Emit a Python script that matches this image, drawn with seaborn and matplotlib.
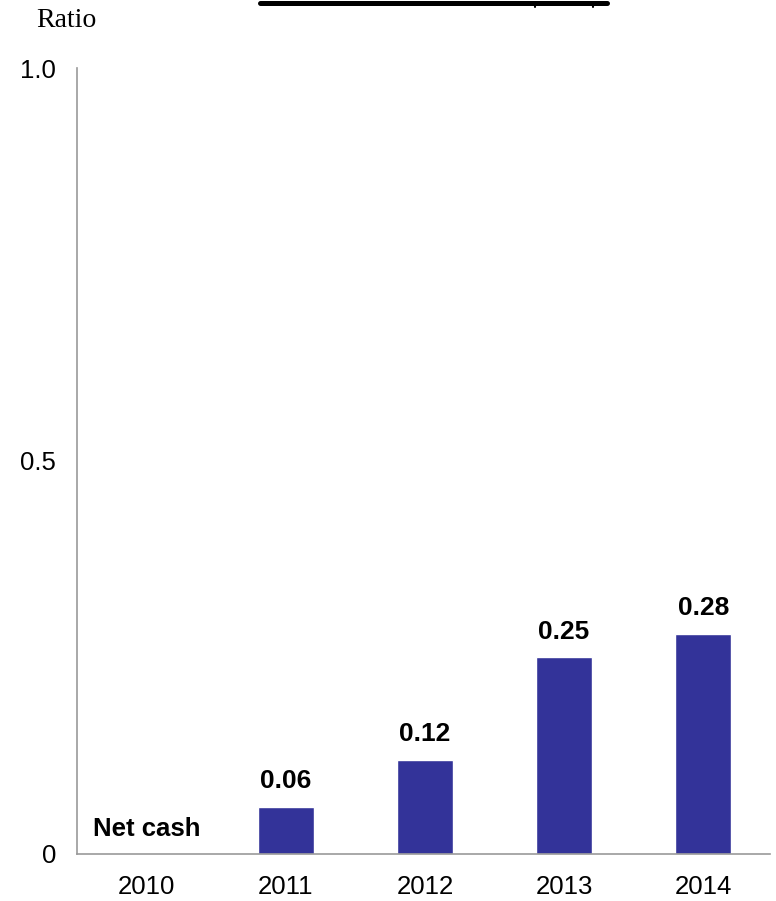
import matplotlib
matplotlib.use("Agg")
import matplotlib.pyplot as plt
import seaborn as sns
import pandas as pd

years = ["2010", "2011", "2012", "2013", "2014"]
ratios = [0.0, 0.06, 0.12, 0.25, 0.28]
value_labels = ["", "0.06", "0.12", "0.25", "0.28"]

df = pd.DataFrame({"year": years, "ratio": ratios})

sns.set_style("white")
plt.rcParams["font.family"] = ["Liberation Sans", "DejaVu Sans"]
plt.rcParams["text.color"] = "black"
plt.rcParams["xtick.color"] = "black"
plt.rcParams["ytick.color"] = "black"

fig = plt.figure(figsize=(7.76, 9.01), dpi=100)
ax = fig.add_axes([0.0992, 0.0522, 0.8931, 0.8723])

sns.barplot(data=df, x="year", y="ratio", color="#333399", saturation=1,
            width=0.4, ax=ax)

for i, lab in enumerate(value_labels):
    if lab:
        ax.annotate(lab, (i, ratios[i]), xytext=(0, 10), textcoords="offset points",
                    ha="center", va="bottom", fontsize=19, fontweight="bold")

ax.text(-0.385, 0.032, "Net cash", ha="left", va="center",
        fontsize=18.5, fontweight="bold")

ax.set_xlim(-0.5, 4.48)
ax.set_ylim(0, 1.0)
ax.set_yticks([0, 0.5, 1.0])
ax.set_yticklabels(["0", "0.5", "1.0"])
ax.tick_params(axis="both", length=0, labelsize=18.5)
ax.tick_params(axis="x", pad=15)
ax.tick_params(axis="y", pad=15)
ax.set_xlabel("")
ax.set_ylabel("")

for s in ["top", "right"]:
    ax.spines[s].set_visible(False)
for s in ["left", "bottom"]:
    ax.spines[s].set_color("#999999")
    ax.spines[s].set_linewidth(1.2)

fig.text(36 / 776, 1 - 27 / 901, "Ratio", ha="left", va="baseline",
         fontsize=20, family=["Liberation Serif", "DejaVu Serif"])

# title underline cut off at the top edge
fig.add_artist(plt.Line2D([260 / 776, 607 / 776], [1 - 2.5 / 901, 1 - 2.5 / 901],
                          color="black", linewidth=3.6, transform=fig.transFigure))
for bx in [535, 593]:
    fig.add_artist(plt.Line2D([bx / 776, bx / 776], [1 - 4 / 901, 1 - 7 / 901],
                              color="black", linewidth=1.5, transform=fig.transFigure))

fig.savefig("out.png", dpi=100)
